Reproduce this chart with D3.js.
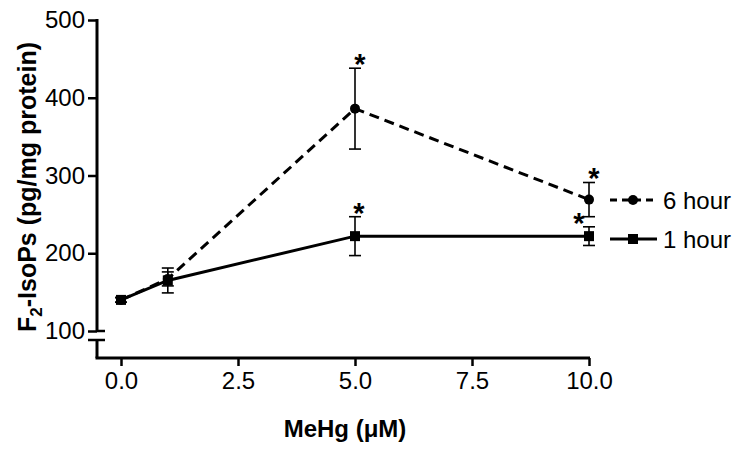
<!DOCTYPE html>
<html>
<head>
<meta charset="utf-8">
<script src="https://cdn.jsdelivr.net/npm/d3@7"></script>
<style>
  body { margin: 0; background: #fff; }
  svg text { font-family: "Liberation Sans", Arial, sans-serif; fill: #000; }
</style>
</head>
<body>
<div id="chart"></div>
<script>
// data
const doses = [0, 1, 5, 10];
const sixHour = [140, 167, 386, 269];
const sixHourErr = [3, 9, 52, 22];
const oneHour = [140, 165, 222, 222];
const oneHourErr = [3, 16, 25, 12];
// which points carry a significance star
const sixHourStar = [false, false, true, true];
const oneHourStar = [false, false, true, true];
const xTicks = [0, 2.5, 5, 7.5, 10];
const yTicks = [100, 200, 300, 400, 500];

const width = 745, height = 457;
const svg = d3.select("#chart").append("svg")
  .attr("width", width).attr("height", height);

const x = d3.scaleLinear().domain([0, 10]).range([121, 589]);
const y = d3.scaleLinear().domain([100, 500]).range([331, 20]);
const axisX = 97, axisY = 358;

// y axis (with break near the bottom)
const yAxis = svg.append("g").attr("transform", "translate(" + axisX + ",0)")
  .call(d3.axisLeft(y).tickValues(yTicks).tickFormat(d3.format("d")).tickSize(9).tickPadding(3));
yAxis.select(".domain").remove();
yAxis.selectAll("line").attr("stroke-width", 2.5);
yAxis.selectAll("text").style("font-size", "24px").attr("font-family", null);
yAxis.append("line").attr("x1", 0).attr("x2", 0).attr("y1", y(500) - 1).attr("y2", y(100))
  .attr("stroke", "#000").attr("stroke-width", 3);
yAxis.append("line").attr("x1", 0).attr("x2", 0).attr("y1", 340).attr("y2", axisY)
  .attr("stroke", "#000").attr("stroke-width", 3);
yAxis.append("line").attr("x1", -9).attr("x2", 8).attr("y1", 340).attr("y2", 340)
  .attr("stroke", "#000").attr("stroke-width", 2.5);
yAxis.append("line").attr("x1", 0).attr("x2", 8).attr("y1", y(100)).attr("y2", y(100))
  .attr("stroke", "#000").attr("stroke-width", 2.5);

// x axis
const xAxis = svg.append("g").attr("transform", "translate(0," + axisY + ")")
  .call(d3.axisBottom(x).tickValues(xTicks).tickFormat(d3.format(".1f")).tickSize(8).tickPadding(6));
xAxis.select(".domain").remove();
xAxis.selectAll("line").attr("stroke-width", 2.5);
xAxis.selectAll("text").style("font-size", "24px").attr("font-family", null);
xAxis.append("line").attr("x1", axisX - 1.5).attr("x2", x(10) + 1).attr("y1", 0).attr("y2", 0)
  .attr("stroke", "#000").attr("stroke-width", 3);

// axis titles
svg.append("text")
  .attr("transform", "translate(36," + 187 + ") rotate(-90)")
  .attr("text-anchor", "middle")
  .style("font-size", "25px").style("font-weight", "bold")
  .html('F<tspan font-size="17px" dy="6">2</tspan><tspan dy="-6">-IsoPs (pg/mg protein)</tspan>');

svg.append("text")
  .attr("x", 345).attr("y", 437)
  .attr("text-anchor", "middle")
  .style("font-size", "24px").style("font-weight", "bold")
  .text("MeHg (\u03bcM)");

const series = [
  { vals: sixHour, err: sixHourErr, star: sixHourStar, dash: "10,6", shape: "circle", label: "6 hour", ly: 200, starDx: [0, 0, 5, 5] },
  { vals: oneHour, err: oneHourErr, star: oneHourStar, dash: null, shape: "square", label: "1 hour", ly: 239, starDx: [0, 0, 4, -10] }
];

const line = d3.line().x((d, i) => x(doses[i])).y(d => y(d));

series.forEach(s => {
  // error bars
  const eb = svg.append("g");
  doses.forEach((dv, i) => {
    const cx = x(dv), top = y(s.vals[i] + s.err[i]), bot = y(s.vals[i] - s.err[i]);
    eb.append("line").attr("x1", cx).attr("x2", cx).attr("y1", top).attr("y2", bot)
      .attr("stroke", "#000").attr("stroke-width", 1.6);
    [top, bot].forEach(yy => eb.append("line")
      .attr("x1", cx - 6).attr("x2", cx + 6).attr("y1", yy).attr("y2", yy)
      .attr("stroke", "#000").attr("stroke-width", 1.6));
    if (s.star[i]) {
      eb.append("text").attr("x", cx + s.starDx[i]).attr("y", top + 6)
        .attr("text-anchor", "middle")
        .style("font-size", "29px").style("font-weight", "bold").text("*");
    }
  });

  svg.append("path").datum(s.vals)
    .attr("fill", "none").attr("stroke", "#000").attr("stroke-width", 3)
    .attr("stroke-dasharray", s.dash)
    .attr("d", line);
});

function marker(g, shape, cx, cy) {
  if (shape === "circle") {
    g.append("circle").attr("cx", cx).attr("cy", cy).attr("r", 5).attr("fill", "#000");
  } else {
    g.append("rect").attr("x", cx - 5).attr("y", cy - 5).attr("width", 10).attr("height", 10).attr("fill", "#000");
  }
}

// markers drawn last; squares on top
series.forEach(s => {
  const g = svg.append("g");
  s.vals.forEach((v, i) => marker(g, s.shape, x(doses[i]), y(v)));
});

// legend
series.forEach(s => {
  const g = svg.append("g");
  g.append("line").attr("x1", 610).attr("x2", 657).attr("y1", s.ly).attr("y2", s.ly)
    .attr("stroke", "#000").attr("stroke-width", 3)
    .attr("stroke-dasharray", s.dash ? "7,5" : null);
  marker(g, s.shape, 633, s.ly);
  g.append("text").attr("x", 663).attr("y", s.ly + 9)
    .style("font-size", "24px").text(s.label);
});
</script>
</body>
</html>
